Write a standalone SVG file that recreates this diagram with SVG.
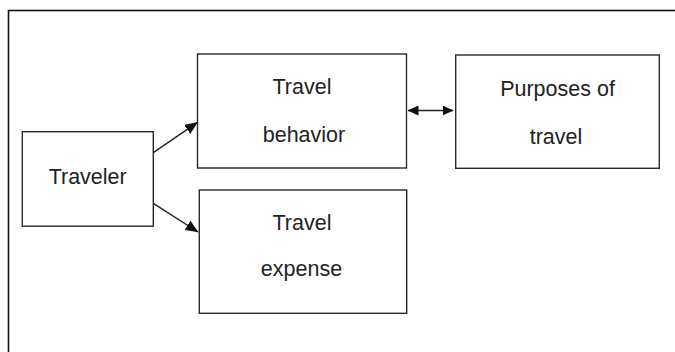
<svg xmlns="http://www.w3.org/2000/svg" width="675" height="352" viewBox="0 0 675 352">
<style>
.box{fill:#fff;stroke:#2a2a2a;stroke-width:1.4}
.lbl{font-family:"Liberation Sans",Arial,sans-serif;font-size:21.5px;fill:#222;text-anchor:middle}
.conn{stroke:#222;stroke-width:1.4;fill:none}
</style>
<defs>
<marker id="ah" markerUnits="userSpaceOnUse" markerWidth="13" markerHeight="11" viewBox="0 0 13 11" refX="12.5" refY="5.5" orient="auto">
<path d="M0,0 L13,5.5 L0,11 Z" fill="#111"/>
</marker>
<marker id="ahs" markerUnits="userSpaceOnUse" markerWidth="11" markerHeight="10" viewBox="0 0 11 10" refX="10.5" refY="5" orient="auto-start-reverse">
<path d="M0,0 L11,5 L0,10 Z" fill="#111"/>
</marker>
</defs>
<rect x="0" y="0" width="675" height="352" fill="#fff"/>
<rect x="8.5" y="10.5" width="720" height="400" fill="none" stroke="#111" stroke-width="1.6"/>
<g id="traveler">
<rect class="box" x="22.3" y="131.7" width="131" height="94.5"/>
<text class="lbl" x="87.7" y="184">Traveler</text>
</g>
<g id="travel-behavior">
<rect class="box" x="197.5" y="54" width="209" height="114"/>
<text class="lbl" x="302" y="94">Travel</text>
<text class="lbl" x="304" y="141.5">behavior</text>
</g>
<g id="purposes-of-travel">
<rect class="box" x="455.7" y="55" width="203.6" height="113.3"/>
<text class="lbl" x="557.5" y="96">Purposes of</text>
<text class="lbl" x="556" y="144">travel</text>
</g>
<g id="travel-expense">
<rect class="box" x="199.3" y="190" width="207.4" height="123.3"/>
<text class="lbl" x="302" y="230">Travel</text>
<text class="lbl" x="301.5" y="276">expense</text>
</g>
<g id="connectors">
<line class="conn" x1="153.3" y1="152.7" x2="197.5" y2="122.3" marker-end="url(#ah)"/>
<line class="conn" x1="153.3" y1="203.3" x2="198" y2="232" marker-end="url(#ah)"/>
<line class="conn" x1="408" y1="110.5" x2="453" y2="110.5" marker-start="url(#ahs)" marker-end="url(#ahs)"/>
</g>
</svg>
